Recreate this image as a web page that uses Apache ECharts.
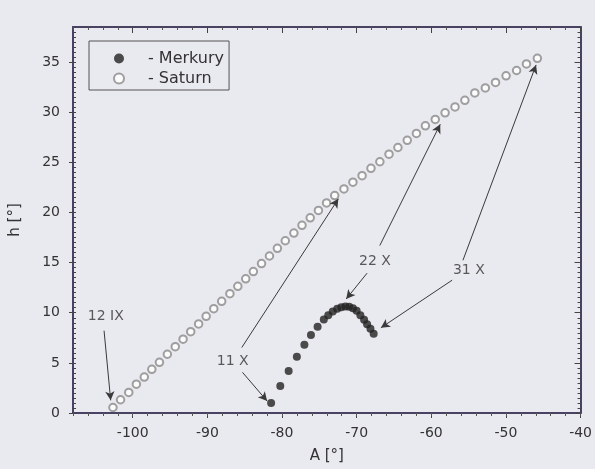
<!DOCTYPE html>
<html>
<head>
<meta charset="utf-8">
<script src="https://cdn.jsdelivr.net/npm/echarts/dist/echarts.min.js"></script>
<style>
html,body{margin:0;padding:0;background:#e9e9f0;}
#c{width:595px;height:469px;}
</style>
</head>
<body>
<div id="c"></div>
<script>
// Saturn (open circles), daily 12 IX .. 31 X
var saturnA = [-102.65,-101.63,-100.53,-99.51,-98.45,-97.44,-96.42,-95.36,-94.30,-93.25,
               -92.23,-91.17,-90.16,-89.14,-88.08,-86.98,-85.92,-84.86,-83.84,-82.74,
               -81.68,-80.62,-79.56,-78.41,-77.32,-76.22,-75.12,-74.03,-72.94,-71.70,
               -70.50,-69.27,-68.08,-66.89,-65.66,-64.47,-63.22,-61.99,-60.79,-59.47,
               -58.15,-56.82,-55.50,-54.17,-52.76,-51.39,-49.98,-48.57,-47.25,-45.79];
var saturnH = [0.55,1.32,2.05,2.88,3.58,4.36,5.06,5.86,6.62,7.36,
               8.11,8.88,9.64,10.40,11.14,11.90,12.63,13.38,14.11,14.90,
               15.66,16.42,17.18,17.95,18.72,19.47,20.20,20.95,21.69,22.35,
               23.02,23.67,24.40,25.06,25.82,26.48,27.20,27.89,28.64,29.28,
               29.94,30.53,31.19,31.92,32.42,32.97,33.63,34.16,34.82,35.38];
// Merkury (filled dots), daily 11 X .. 31 X
var mercA = [-81.46,-80.23,-79.11,-78.01,-77.00,-76.12,-75.23,-74.40,-73.80,-73.20,
             -72.60,-72.05,-71.50,-71.00,-70.50,-70.00,-69.50,-69.00,-68.60,-68.15,-67.72];
var mercH = [0.99,2.70,4.18,5.61,6.80,7.79,8.61,9.33,9.75,10.12,
             10.40,10.55,10.63,10.60,10.45,10.20,9.75,9.30,8.85,8.40,7.91];

// annotation labels
var annText = ['12 IX','11 X','22 X','31 X'];
var annA = [-103.6,-86.6,-67.55,-54.97];
var annH = [9.6,5.14,15.16,14.24];
// annotation arrows (data units)
var arrFromA = [-103.84,-85.3,-85.39,-66.9,-68.6,-55.76,-57.2];
var arrFromH = [8.21,4.06,6.53,16.7,13.95,15.23,13.25];
var arrToA   = [-102.95,-81.99,-72.45,-58.8,-71.4,-45.96,-66.75];
var arrToH   = [1.26,1.19,21.36,28.8,11.37,34.72,8.5];

// axis ticks
var xMajor = [-100,-90,-80,-70,-60,-50,-40];
var yMajor = [0,5,10,15,20,25,30,35];
var xMin = -108, xMax = -40, yMin = 0, yMax = 38.5;

var FONT = 'DejaVu Sans';
var AX = '#4a4262';
var TXT = '#333333';

function zip(a,b){var r=[];for(var i=0;i<a.length;i++)r.push([a[i],b[i]]);return r;}

var lbl = [];
for (var i=0;i<annText.length;i++) lbl.push({name:annText[i], value:[annA[i],annH[i]]});
var arrows = [];
for (var j=0;j<arrFromA.length;j++) arrows.push([{coord:[arrFromA[j],arrFromH[j]]},{coord:[arrToA[j],arrToH[j]]}]);

function line(show){return {show:show,onZero:false,lineStyle:{color:AX,width:2}};}

var chart = echarts.init(document.getElementById('c'), null, {renderer:'canvas'});
chart.setOption({
  animation:false,
  backgroundColor:'#e9e9f0',
  textStyle:{fontFamily:FONT},
  grid:{left:69,right:13,top:27,bottom:53,containLabel:false},
  legend:{
    orient:'vertical', left:89, top:41,
    data:['Merkury','Saturn'],
    itemWidth:10, itemHeight:10, itemGap:3,
    padding:[9,5,3,24],
    borderColor:'#555', borderWidth:1,
    formatter:'- {name}',
    textStyle:{fontFamily:FONT,fontSize:16,color:TXT,lineHeight:17,padding:[0,0,0,19]}
  },
  xAxis:[
    {type:'value',position:'bottom',min:xMin,max:xMax,
     name:'A [°]',nameLocation:'middle',nameGap:36,
     nameTextStyle:{fontFamily:FONT,fontSize:15,color:TXT},
     axisLine:line(true),
     axisTick:{show:true,customValues:xMajor,length:5,inside:false,lineStyle:{color:'#444'}},
     axisLabel:{customValues:xMajor,margin:13,fontFamily:FONT,fontSize:14,color:TXT},
     splitLine:{show:false}},
    {type:'value',position:'bottom',min:xMin,max:xMax,interval:2,
     axisLine:line(false),
     axisTick:{show:true,length:3,inside:false,lineStyle:{color:'#555'}},
     axisLabel:{show:false},splitLine:{show:false}},
    {type:'value',position:'top',min:xMin,max:xMax,interval:2,
     axisLine:line(true),
     axisTick:{show:true,length:3,inside:true,lineStyle:{color:'#555'}},
     axisLabel:{show:false},splitLine:{show:false}},
    {type:'value',position:'top',min:xMin,max:xMax,
     axisLine:line(false),
     axisTick:{show:true,customValues:xMajor,length:6,inside:true,lineStyle:{color:'#444'}},
     axisLabel:{show:false},splitLine:{show:false}}
  ],
  yAxis:[
    {type:'value',position:'left',min:yMin,max:yMax,
     name:'h [°]',nameLocation:'middle',nameGap:50,nameRotate:90,
     nameTextStyle:{fontFamily:FONT,fontSize:15,color:TXT},
     axisLine:line(true),
     axisTick:{show:true,customValues:yMajor,length:4,inside:false,lineStyle:{color:'#444'}},
     axisLabel:{customValues:yMajor,margin:13,fontFamily:FONT,fontSize:14,color:TXT},
     splitLine:{show:false}},
    {type:'value',position:'left',min:yMin,max:yMax,interval:0.5,
     axisLine:line(false),
     axisTick:{show:true,length:3,inside:true,lineStyle:{color:'#444'}},
     axisLabel:{show:false},splitLine:{show:false}},
    {type:'value',position:'right',min:yMin,max:yMax,interval:0.5,
     axisLine:line(true),
     axisTick:{show:true,length:3,inside:true,lineStyle:{color:'#444'}},
     axisLabel:{show:false},splitLine:{show:false}},
    {type:'value',position:'right',min:yMin,max:yMax,
     axisLine:line(false),
     axisTick:{show:true,customValues:yMajor,length:6,inside:true,lineStyle:{color:'#444'}},
     axisLabel:{show:false},splitLine:{show:false}}
  ],
  series:[
    {name:'Merkury',type:'scatter',xAxisIndex:0,yAxisIndex:0,
     symbol:'circle',symbolSize:8,
     itemStyle:{color:'#222222'},
     data:zip(mercA,mercH),z:3},
    {name:'Saturn',type:'scatter',xAxisIndex:0,yAxisIndex:0,
     symbol:'emptyCircle',symbolSize:7.5,
     itemStyle:{color:'#8a8a8a',borderColor:'#8a8a8a',borderWidth:1.2},
     data:zip(saturnA,saturnH),z:3},
    {name:'annotations',type:'scatter',xAxisIndex:0,yAxisIndex:0,
     symbolSize:0,silent:true,
     label:{show:true,position:'inside',formatter:'{b}',fontFamily:FONT,fontSize:14,color:TXT},
     data:lbl,
     markLine:{silent:true,symbol:['none','arrow'],symbolSize:[7,9],
       label:{show:false},
       lineStyle:{type:'solid',color:'#3a3a3a',width:1},
       emphasis:{disabled:true},
       data:arrows},
     z:4}
  ]
});
</script>
</body>
</html>
